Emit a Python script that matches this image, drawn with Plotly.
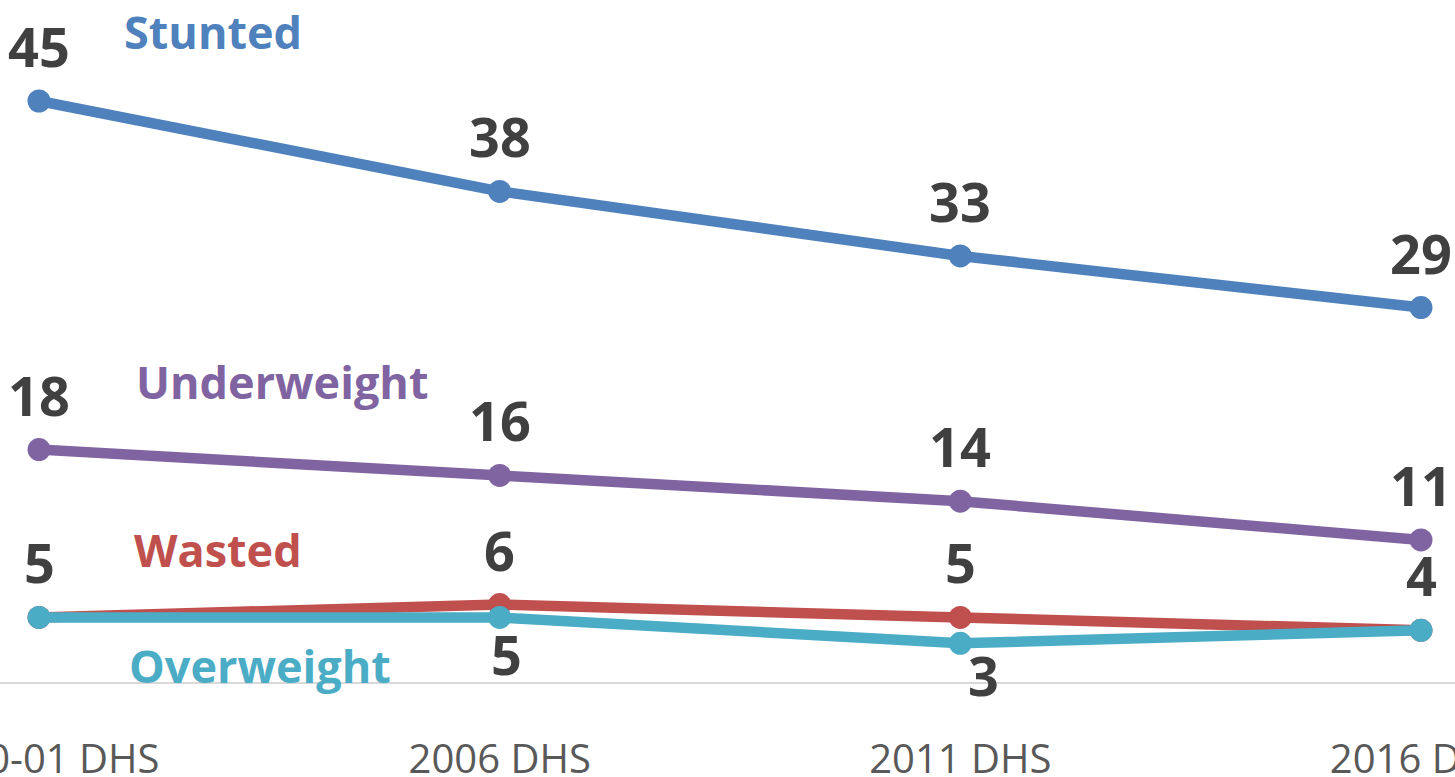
import plotly.graph_objects as go

surveys = ["2000-01 DHS", "2006 DHS", "2011 DHS", "2016 DHS"]
stunted = [45, 38, 33, 29]
underweight = [18, 16, 14, 11]
wasted = [5, 6, 5, 4]
overweight = [5, 5, 3, 4]

series = [
    ("Stunted", stunted, "#4F81BD"),
    ("Underweight", underweight, "#8064A2"),
    ("Wasted", wasted, "#C0504D"),
    ("Overweight", overweight, "#4BACC6"),
]

W, H = 1455, 777
PLOT_BOTTOM = 682  # pixel of value 0
X0_PX, X3_PX = 39, 1421
ppx = (X3_PX - X0_PX) / 3.0
ppy = (PLOT_BOTTOM - 101) / 45.0
xrange = [-X0_PX / ppx, 3 + (W - X3_PX) / ppx]
yrange = [0, PLOT_BOTTOM / ppy]

def px2x(p):
    return (p - X0_PX) / ppx

def px2y(p):
    return (PLOT_BOTTOM - p) / ppy

xs = list(range(len(surveys)))
fig = go.Figure()
for name, vals, color in series:
    fig.add_trace(go.Scatter(
        x=xs, y=vals, mode="lines+markers", name=name,
        line=dict(color=color, width=10.5),
        marker=dict(color=color, size=23),
        cliponaxis=False, showlegend=False,
    ))

label_font = dict(family="Open Sans", size=54, color="#404040", weight="bold")
offsets = {
    "Stunted": [(0, 55), (0, 55), (0, 55), (0, 55)],
    "Underweight": [(0, 55), (0, 55), (0, 55), (0, 55)],
    "Wasted": [(0, 55), (0, 55), (0, 55), (0, 55)],
    "Overweight": [None, (7, -37), (23, -32), None],
}
for name, vals, color in series:
    for i, v in enumerate(vals):
        off = offsets[name][i]
        if off is None:
            continue
        fig.add_annotation(x=xs[i], y=v, text=str(v), showarrow=False,
                           xshift=off[0], yshift=off[1], font=label_font,
                           xanchor="center", yanchor="middle")

name_pos = {
    "Stunted": (213, 31),
    "Underweight": (282, 381),
    "Wasted": (218, 549),
    "Overweight": (260, 665),
}
for name, vals, color in series:
    px, py = name_pos[name]
    fig.add_annotation(x=px2x(px), y=px2y(py), text=name, showarrow=False,
                       font=dict(family="Open Sans", size=45, color=color, weight="bold"),
                       xanchor="center", yanchor="middle")

fig.update_layout(
    width=W, height=H,
    margin=dict(l=0, r=0, t=0, b=H - PLOT_BOTTOM, autoexpand=False),
    paper_bgcolor="white", plot_bgcolor="white",
    xaxis=dict(range=xrange, tickvals=xs, ticktext=surveys, showgrid=False,
               zeroline=False, showline=True, linecolor="#d9d9d9", linewidth=1.5,
               ticks="outside", ticklen=41, tickcolor="rgba(0,0,0,0)",
               ticklabeloverflow="allow", automargin=False,
               tickfont=dict(family="Open Sans", size=40, color="#595959")),
    yaxis=dict(range=yrange, visible=False, showgrid=False, zeroline=False,
               automargin=False),
)

fig.write_html("out.html",
               config={"displayModeBar": False},
               post_script="document.body.style.margin='0';document.body.style.overflow='hidden';")
